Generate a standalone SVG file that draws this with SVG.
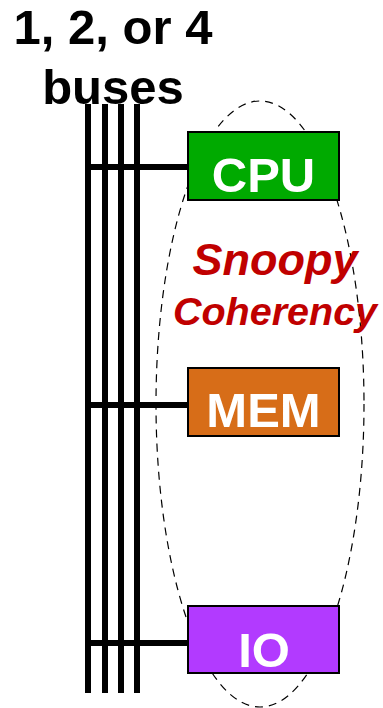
<svg xmlns="http://www.w3.org/2000/svg" width="383" height="708" viewBox="0 0 383 708">
<style>
.bus{stroke:#000;stroke-width:6;fill:none}
.box{stroke:#000;stroke-width:2}
.lbl{font-family:"Liberation Sans",Arial,sans-serif;font-weight:bold;fill:#fff;text-anchor:middle}
.title{font-family:"Liberation Sans",Arial,sans-serif;font-weight:bold;fill:#000;text-anchor:middle;font-size:49px}
.snoop{font-family:"Liberation Sans",Arial,sans-serif;font-weight:bold;font-style:italic;fill:#C00000;text-anchor:middle}
</style>
<rect width="383" height="708" fill="#fff"/>
<ellipse cx="260" cy="404" rx="104" ry="303" fill="none" stroke="#000" stroke-width="1.2" stroke-dasharray="8,6"/>
<g id="title">
<text class="title" x="113" y="44">1, 2, or 4</text>
<text class="title" x="113" y="104">buses</text>
</g>
<g id="connectors">
<line class="bus" x1="88" y1="104" x2="88" y2="693"/>
<line class="bus" x1="105" y1="104" x2="105" y2="693"/>
<line class="bus" x1="121" y1="104" x2="121" y2="693"/>
<line class="bus" x1="137" y1="104" x2="137" y2="693"/>
<line class="bus" x1="88" y1="167" x2="188" y2="167"/>
<line class="bus" x1="88" y1="405" x2="188" y2="405"/>
<line class="bus" x1="88" y1="643" x2="188" y2="643"/>
</g>
<g id="cpu">
<rect class="box" x="188" y="132" width="151" height="68" fill="#00AA00"/>
<text class="lbl" x="263.5" y="192" font-size="49">CPU</text>
</g>
<g id="mem">
<rect class="box" x="188" y="368" width="151" height="68" fill="#D76D18"/>
<text class="lbl" x="263.5" y="427" font-size="49">MEM</text>
</g>
<g id="io">
<rect class="box" x="188" y="606" width="151" height="67" fill="#B23AFF"/>
<text class="lbl" x="264" y="667" font-size="49">IO</text>
</g>
<g id="snoopy">
<text class="snoop" x="275" y="275" font-size="45">Snoopy</text>
<text class="snoop" x="275" y="325" font-size="39.5">Coherency</text>
</g>
</svg>
